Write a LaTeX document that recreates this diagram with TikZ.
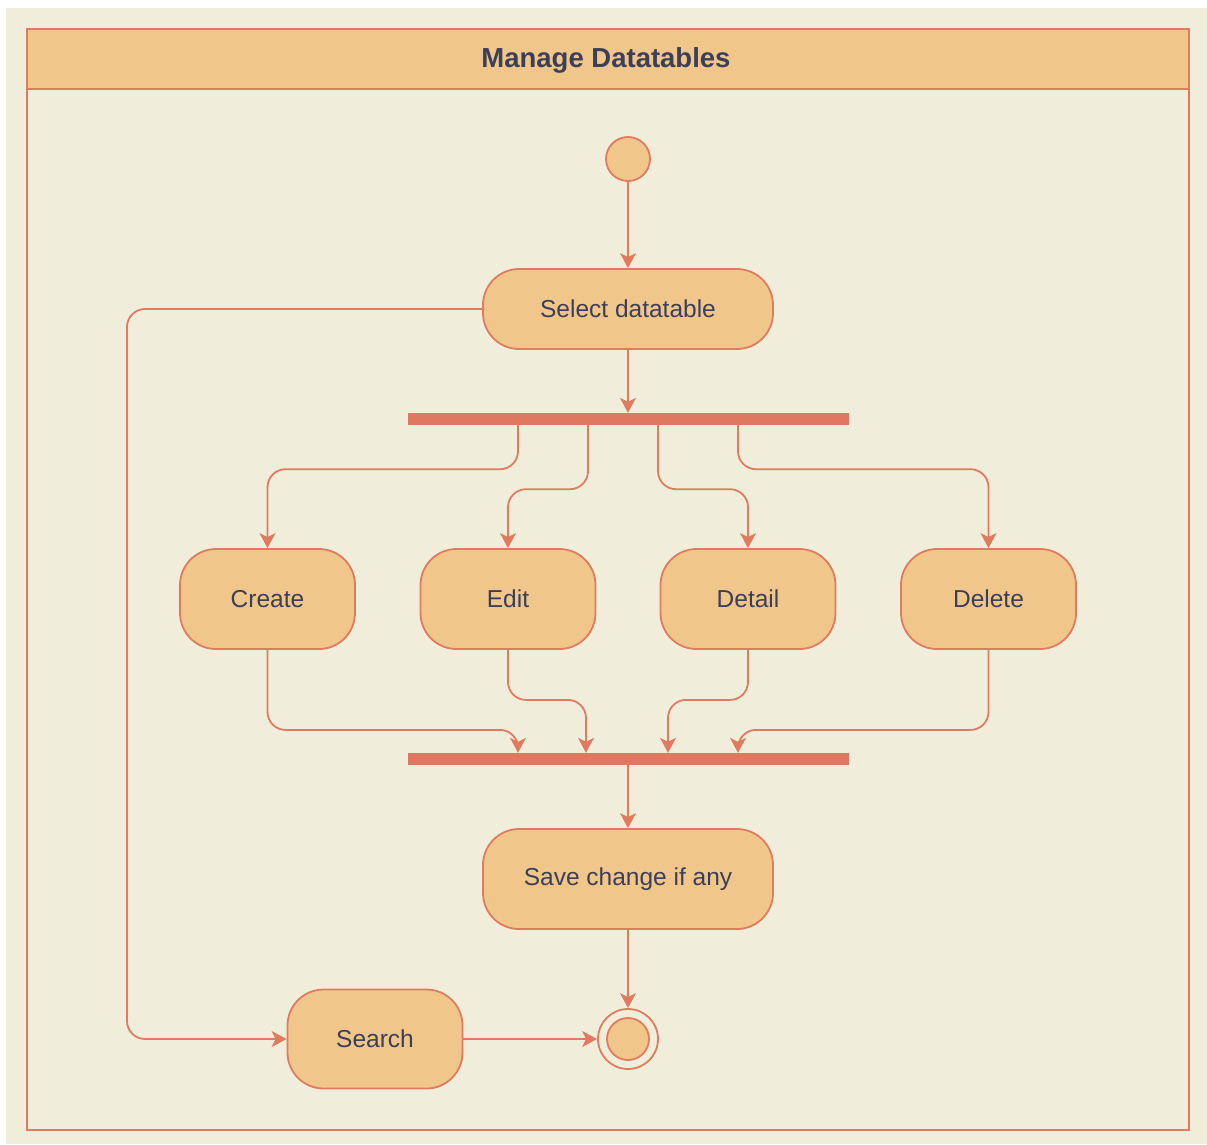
\documentclass[tikz,border=0pt]{standalone}
\usepackage{fontspec}
\setmainfont{Liberation Sans}
\usetikzlibrary{arrows.meta,calc}
\definecolor{bgc}{HTML}{F0EEDB}
\definecolor{fillc}{HTML}{F0C68A}
\definecolor{linec}{HTML}{E07B5F}
\definecolor{barc}{HTML}{DE7860}
\definecolor{txtc}{HTML}{3B3F58}
\tikzset{
  act/.style={draw=linec, fill=fillc, line width=1.8pt, rounded corners=36pt,
    inner sep=0pt, text=txtc, font=\fontsize{24.5}{29}\selectfont},
  wideact/.style={act, minimum width=290pt, minimum height=80pt},
  smallact/.style={act, minimum width=175pt, minimum height=100pt},
  bar/.style={fill=barc, draw=none, minimum width=441pt, minimum height=12pt, inner sep=0pt},
  conn/.style={draw=linec, line width=1.8pt, rounded corners=18pt,
    -{Stealth[length=15pt,width=16pt,inset=4pt]}},
}
\begin{document}
\begin{tikzpicture}[x=1pt,y=-1pt]
\useasboundingbox (0,0) rectangle (1207,1144);
\fill[white] (0,0) rectangle (1207,1144);
\fill[bgc] (6,8) rectangle (1207,1144);
% frame and header
\draw[linec, line width=1.8pt] (27,29) rectangle (1189,1130);
\draw[linec, fill=fillc, line width=1.8pt] (27,29) rectangle (1189,89);
\node[text=txtc, font=\bfseries\fontsize{27.5}{32}\selectfont] (title) at (606,60) {Manage Datatables};
% nodes
\node[circle, draw=linec, fill=fillc, line width=1.8pt, minimum size=44pt, inner sep=0pt] (start) at (628,159) {};
\node[wideact] (select) at (628,309) {Select datatable};
\node[bar] (fork) at (628,419) {};
\node[smallact] (create) at (267.5,599) {Create};
\node[smallact] (edit) at (508,599) {Edit};
\node[smallact] (detail) at (748,599) {Detail};
\node[smallact] (delete) at (988.5,599) {Delete};
\node[bar] (join) at (628,759) {};
\node[wideact, minimum height=100pt] (save) at (628,879) {Save change if any};
\node[smallact, minimum height=99pt] (search) at (375,1039) {Search};
\node[circle, draw=linec, fill=bgc, line width=1.8pt, minimum size=60pt, inner sep=0pt] (end) at (628,1039) {};
\node[circle, draw=linec, fill=fillc, line width=1.8pt, minimum size=42pt, inner sep=0pt] (endin) at (628,1039) {};
\coordinate (loop) at (127,1039);
% connectors
\draw[conn] (start) -- (select);
\draw[conn] (select) -- (fork);
\draw[conn] ([xshift=-110pt]fork.south) -- ++(0,44) -| (create.north);
\draw[conn] ([xshift=-40pt]fork.south) -- ++(0,64) -| (edit.north);
\draw[conn] ([xshift=30pt]fork.south) -- ++(0,64) -| (detail.north);
\draw[conn] ([xshift=110pt]fork.south) -- ++(0,44) -| (delete.north);
\draw[conn] (create.south) -- ++(0,80) -| ([xshift=-110pt]join.north);
\draw[conn] (edit.south) -- ++(0,50) -| ([xshift=-42pt]join.north);
\draw[conn] (detail.south) -- ++(0,50) -| ([xshift=40pt]join.north);
\draw[conn] (delete.south) -- ++(0,80) -| ([xshift=110pt]join.north);
\draw[conn] (join) -- (save);
\draw[conn] (save) -- (end);
\draw[conn] (select.west) -| (loop) -- (search.west);
\draw[conn] (search) -- (end);
\end{tikzpicture}
\end{document}
